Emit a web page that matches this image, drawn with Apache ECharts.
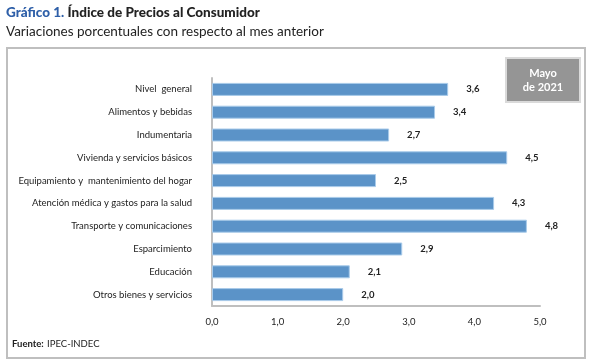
<!DOCTYPE html>
<html><head><meta charset="utf-8">
<script src="https://cdn.jsdelivr.net/npm/echarts@6/dist/echarts.min.js"></script>
<style>html,body{margin:0;padding:0;background:#fff}#c{width:592px;height:361px}</style>
</head><body><div id="c"></div>
<script>
const categories = ["Nivel  general","Alimentos y bebidas","Indumentaria","Vivienda y servicios básicos","Equipamiento y  mantenimiento del hogar","Atención médica y gastos para la salud","Transporte y comunicaciones","Esparcimiento","Educación","Otros bienes y servicios"];
const values = [3.6, 3.4, 2.7, 4.5, 2.5, 4.3, 4.8, 2.9, 2.1, 2.0];
const xTicks = [0, 1, 2, 3, 4, 5];
const FONT = "Lato, Open Sans, sans-serif";
const chart = echarts.init(document.getElementById('c'));
chart.setOption({
  animation: false,
  textStyle: {fontFamily: FONT},
  graphic: [
    {type:'rect', shape:{x:7,y:48,width:578,height:310}, style:{fill:'none', stroke:'#BFBFBF', lineWidth:2}, z:-1},
    {type:'text', left:6, top:6, style:{rich:{a:{fill:'#2E5FA8',fontWeight:900,fontSize:13.5,fontFamily:FONT},b:{fill:'#222',fontWeight:900,fontSize:13.5,fontFamily:FONT}}, text:'{a|Gráfico 1.} {b|Índice de Precios al Consumidor}'}},
    {type:'text', left:6, top:25, style:{text:'Variaciones porcentuales con respecto al mes anterior', fill:'#222', fontSize:13.5, fontFamily:FONT}},
    {type:'rect', shape:{x:506,y:58,width:74,height:44}, style:{fill:'#959595', stroke:'#DADADA', lineWidth:2}},
    {type:'text', x:543, y:80, style:{text:'Mayo\nde 2021', fill:'#fff', fontWeight:'bold', fontSize:11, lineHeight:14, align:'center', verticalAlign:'middle', fontFamily:FONT}},
    {type:'text', left:12, top:338, style:{rich:{a:{fill:'#222',fontWeight:'bold',fontSize:9.5,fontFamily:FONT},b:{fill:'#222',fontSize:9.5,fontFamily:FONT}}, text:'{a|Fuente:} {b|IPEC-INDEC}'}}
  ],
  grid: {left:212, right:52, top:78, bottom:55},
  xAxis: {
    type:'value', min:0, max:5, interval:1,
    axisLine:{show:true, lineStyle:{color:'#BFBFBF', width:2}},
    axisTick:{show:false}, splitLine:{show:false},
    axisLabel:{color:'#222', fontSize:9.5, margin:11, formatter: v => v.toFixed(1).replace('.', ',')}
  },
  yAxis: {
    type:'category', data:categories, inverse:true,
    axisLine:{show:true, lineStyle:{color:'#BFBFBF', width:2}},
    axisTick:{show:false},
    axisLabel:{color:'#222', fontSize:9.5, margin:20}
  },
  series: [{
    type:'bar', data:values, barWidth:13,
    itemStyle:{color:'#5B93C8', borderColor:'#A9CBEA', borderWidth:1},
    label:{show:true, position:'right', distance:18, color:'#222', fontSize:9.5, fontWeight:'bold', formatter: p => p.value.toFixed(1).replace('.', ',')}
  }]
});
</script></body></html>
